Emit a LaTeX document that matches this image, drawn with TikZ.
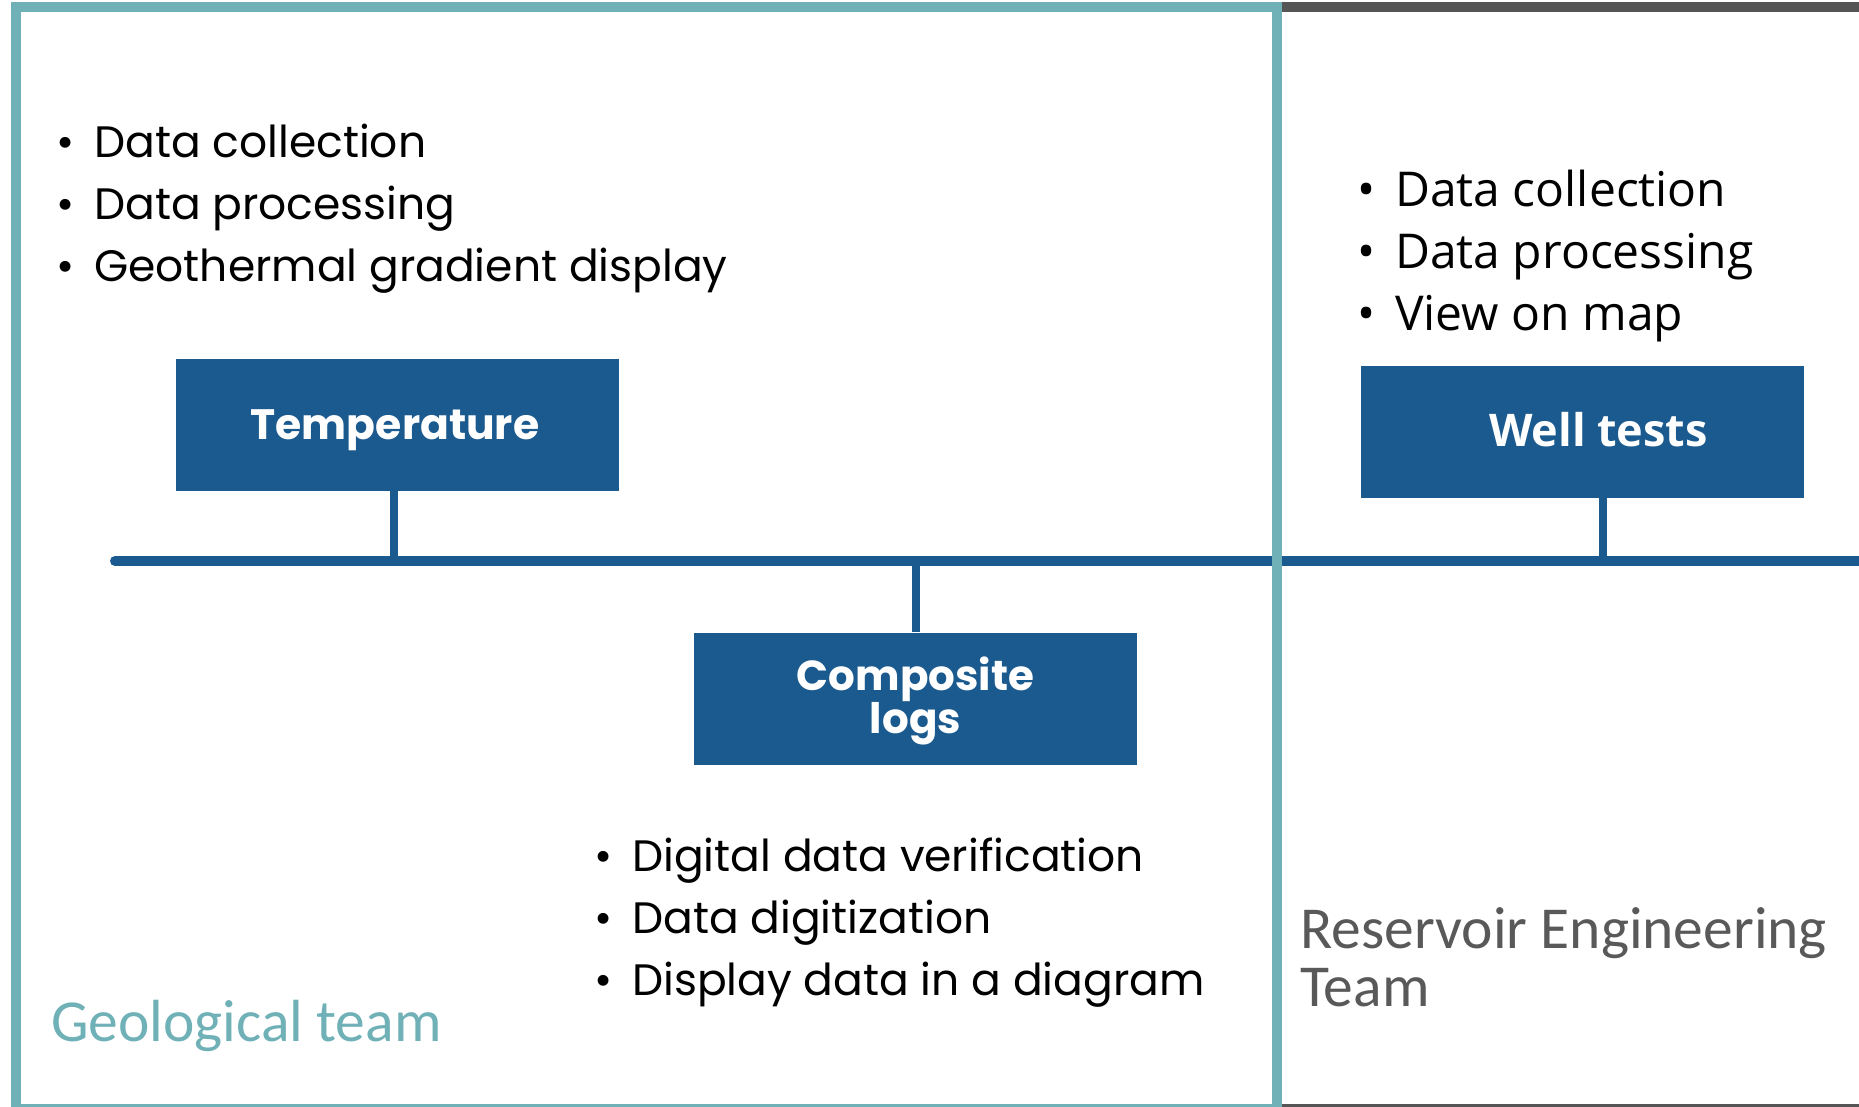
\documentclass[tikz,border=0pt]{standalone}
\usepackage{fontspec}
\newfontfamily\popp{Poppins}
\newfontfamily\opens{Open Sans}
\newfontfamily\carl{Carlito}
\definecolor{tealc}{HTML}{6FB1B7}
\definecolor{bluec}{HTML}{1B5A8E}
\definecolor{grayline}{HTML}{555555}
\definecolor{graytext}{HTML}{595959}
\tikzset{
  bluebox/.style={fill=bluec, minimum width=443pt, minimum height=132pt, inner sep=0pt, text=white, align=center},
  blist/.style={inner sep=0pt, align=left, anchor=west},
  mainline/.style={draw=bluec, line width=10pt, line cap=round},
  conn/.style={draw=bluec, line width=8pt},
}
\newcommand{\bl}[1]{\makebox[38pt][l]{\textbullet}#1}
\newcommand{\mv}[2]{\raisebox{#1}[\height][\depth]{#2}}
\begin{document}
\begin{tikzpicture}[x=1pt,y=-1pt]
\useasboundingbox (0,0) rectangle (1859,1107);
\fill[white] (0,0) rectangle (1859,1107);
% timeline
\coordinate (lstart) at (115,561);
\coordinate (lend) at (1875,561);
\draw[mainline] (lstart) -- (lend);
% boxes
\node[bluebox, font=\popp\bfseries\fontsize{42.5}{43}\selectfont] (temp) at (397,425) {\hspace*{-4pt}\mv{-5pt}{Temperature}};
\node[bluebox, font=\popp\bfseries\fontsize{42}{43}\selectfont] (comp) at (915.5,698.5) {\mv{-2pt}{Composite}\\\mv{-2pt}{logs}};
\node[bluebox, font=\opens\bfseries\fontsize{45}{46}\selectfont] (well) at (1582.5,432) {\hspace*{32pt}\mv{2.5pt}{Well tests}};
\coordinate (tempc) at (394,491);
\coordinate (wellc) at (1603,498);
\draw[conn] (tempc) -- (tempc |- lstart);
\draw[conn] (comp.north) -- (comp.north |- lstart);
\draw[conn, line cap=round] (wellc) -- ([yshift=3pt]wellc |- lstart);
% frames
\draw[grayline, line width=10pt] (1277,7.5) -- (1875,7.5);
\draw[grayline, line width=10pt] (1277,1109) -- (1875,1109);
\draw[tealc, line width=10pt] (16,7.5) rectangle (1277,1109);
% bullet lists
\node[blist, font=\popp\fontsize{44}{62}\selectfont] (listA) at (56,209) {\bl{Data collection}\\\bl{Data processing}\\\bl{Geothermal gradient display}};
\node[blist, font=\popp\fontsize{44}{62}\selectfont] (listC) at (594,923) {\bl{Digital data verification}\\\bl{Data digitization}\\\bl{Display data in a diagram}};
\node[blist, font=\opens\fontsize{48}{62}\selectfont] (listB) at (1357,256) {\bl{Data collection}\\\bl{Data processing}\\\bl{View on map}};
% team labels
\node[inner sep=0pt, anchor=west, text=tealc, font=\carl\fontsize{59.5}{60}\selectfont] (geo) at (51,1026) {Geological team};
\node[inner sep=0pt, anchor=west, text=graytext, font=\carl\fontsize{59.5}{58}\selectfont, align=left] (res) at (1300,957) {Reservoir Engineering\\Team};
\end{tikzpicture}
\end{document}
